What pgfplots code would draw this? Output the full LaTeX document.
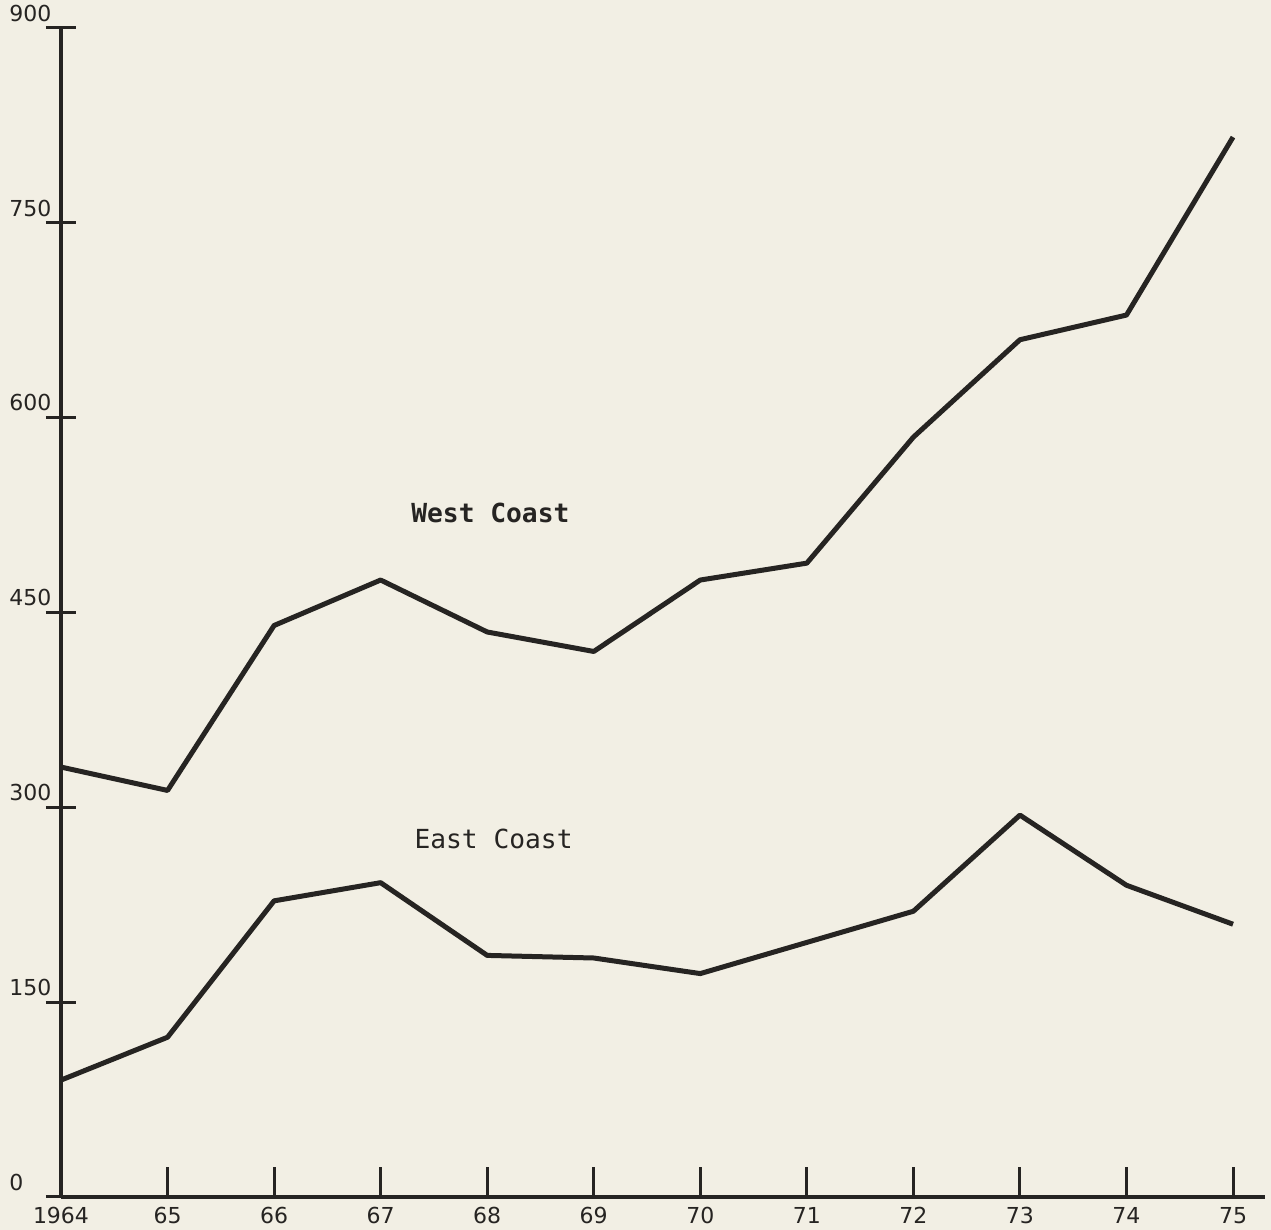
\documentclass[border=0pt]{standalone}
\usepackage{pgfplots}
\pgfplotsset{compat=1.18}
\usepackage{fontspec}
\setmainfont{DejaVu Sans}
\newfontfamily\monofont{DejaVu Sans Mono}
\definecolor{paper}{RGB}{242,239,228}
\definecolor{ink}{RGB}{38,36,34}
\begin{document}
\begin{tikzpicture}
\fill[paper] (-24.4pt,-13.2pt) rectangle ++(508.4pt,492pt);
\begin{axis}[
  at={(0,0)}, anchor=south west, scale only axis,
  width=481.6pt, height=467.6pt,
  xmin=0, xmax=11.3, ymin=0, ymax=900,
  axis lines=left,
  axis line style={-, line width=1.4pt, ink},
  xtick={0,1,2,3,4,5,6,7,8,9,10,11},
  xticklabels={1964,65,66,67,68,69,70,71,72,73,74,75},
  ytick={0,150,300,450,600,750,900},
  xtick align=inside, ytick align=center,
  major tick length=12pt,
  tick style={line width=1.2pt, ink},
  tick label style={font=\fontsize{8.8}{10}\selectfont, text=ink, inner sep=0pt},
  yticklabel style={anchor=south west, xshift=-14.8pt, yshift=2.4pt},
  xticklabel style={anchor=north, yshift=-4pt},
  /pgf/number format/assume math mode=true,
  clip=false,
]
\addplot[ink, line width=2pt, line join=round] coordinates {
  (0,331) (1,313) (2,440) (3,475) (4,435) (5,420) (6,475) (7,488) (8,585) (9,660) (10,679) (11,816)};
\addplot[ink, line width=2pt, line join=round] coordinates {
  (0,90) (1,123) (2,228) (3,242) (4,186) (5,184) (6,172) (7,196) (8,220) (9,294) (10,240) (11,210)};
\node[font=\monofont\bfseries\fontsize{10.5}{12}\selectfont, text=ink] at (axis cs:4.03,527) {West Coast};
\node[font=\monofont\fontsize{10.5}{12}\selectfont, text=ink] at (axis cs:4.06,276) {East Coast};
\end{axis}
\pgfresetboundingbox
\path (-24.4pt,-13.2pt) rectangle ++(508.4pt,492pt);
\end{tikzpicture}
\end{document}
